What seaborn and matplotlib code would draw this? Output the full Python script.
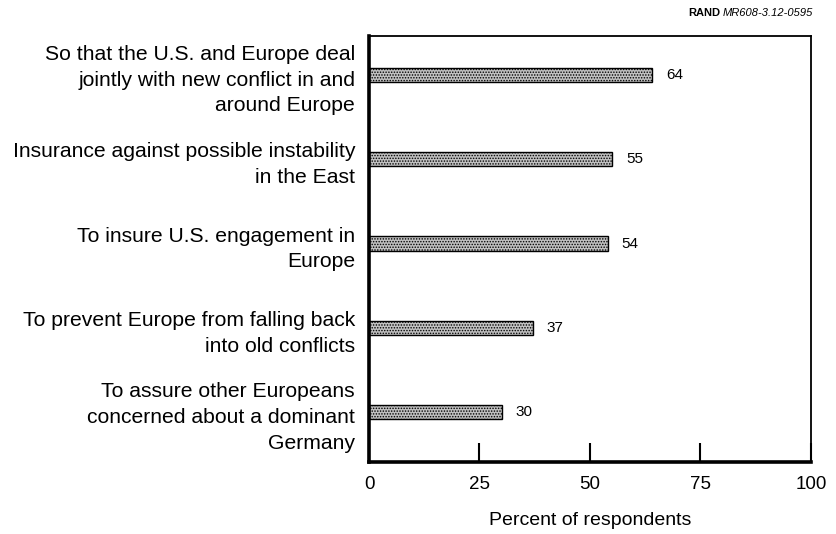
import matplotlib
matplotlib.use("Agg")
import matplotlib.pyplot as plt
import seaborn as sns
import pandas as pd

# datos
motivos = [
    "So that the U.S. and Europe deal\njointly with new conflict in and\naround Europe",
    "Insurance against possible instability\nin the East",
    "To insure U.S. engagement in\nEurope",
    "To prevent Europe from falling back\ninto old conflicts",
    "To assure other Europeans\nconcerned about a dominant\nGermany",
]
porcentajes = [64, 55, 54, 37, 30]
ticks_x = [0, 25, 50, 75, 100]

df = pd.DataFrame({"motivo": motivos, "pct": porcentajes})

sns.set_style("white")
plt.rcParams["font.family"] = ["Liberation Sans", "DejaVu Sans"]
plt.rcParams["text.color"] = "black"
plt.rcParams["xtick.color"] = "black"
plt.rcParams["ytick.color"] = "black"
plt.rcParams["axes.labelcolor"] = "black"
plt.rcParams["hatch.color"] = "#3c3c3c"
plt.rcParams["hatch.linewidth"] = 0.7

fig = plt.figure(figsize=(8.36, 5.34), dpi=100)
ax = fig.add_axes([0.4414, 0.1348, 0.5286, 0.7978])

sns.barplot(data=df, x="pct", y="motivo", orient="h", width=0.17,
            color="#c0c0c0", edgecolor="black", linewidth=1.0,
            saturation=1, ax=ax)
for p in ax.patches:
    p.set_hatch("......")

for i, v in enumerate(porcentajes):
    ax.text(v + 3.2, i, str(v), va="center", ha="left", fontsize=11)

ax.set_xlim(0, 100)
ax.set_ylim(4.59, -0.46)
ax.set_xticks(ticks_x)
ax.set_xticklabels([str(t) for t in ticks_x], fontsize=13.5)
ax.tick_params(axis="x", direction="in", length=14, width=1.5, pad=10,
               bottom=True, color="black")
ax.tick_params(axis="y", length=0, pad=10, labelsize=15.2)
for lab in ax.get_yticklabels():
    lab.set_linespacing(1.45)
ax.set_ylabel("")
ax.set_xlabel("Percent of respondents", fontsize=14, labelpad=14)

for lado, ancho in [("left", 2.6), ("bottom", 2.6), ("top", 1.3), ("right", 1.3)]:
    ax.spines[lado].set_visible(True)
    ax.spines[lado].set_linewidth(ancho)
    ax.spines[lado].set_color("black")

fig.text(0.862, 0.975, "RAND", fontsize=8, fontweight="bold", ha="right", va="center")
fig.text(0.864, 0.975, "MR608-3.12-0595", fontsize=8, style="italic", ha="left", va="center")

plt.savefig("out.png", dpi=100)
plt.close()
